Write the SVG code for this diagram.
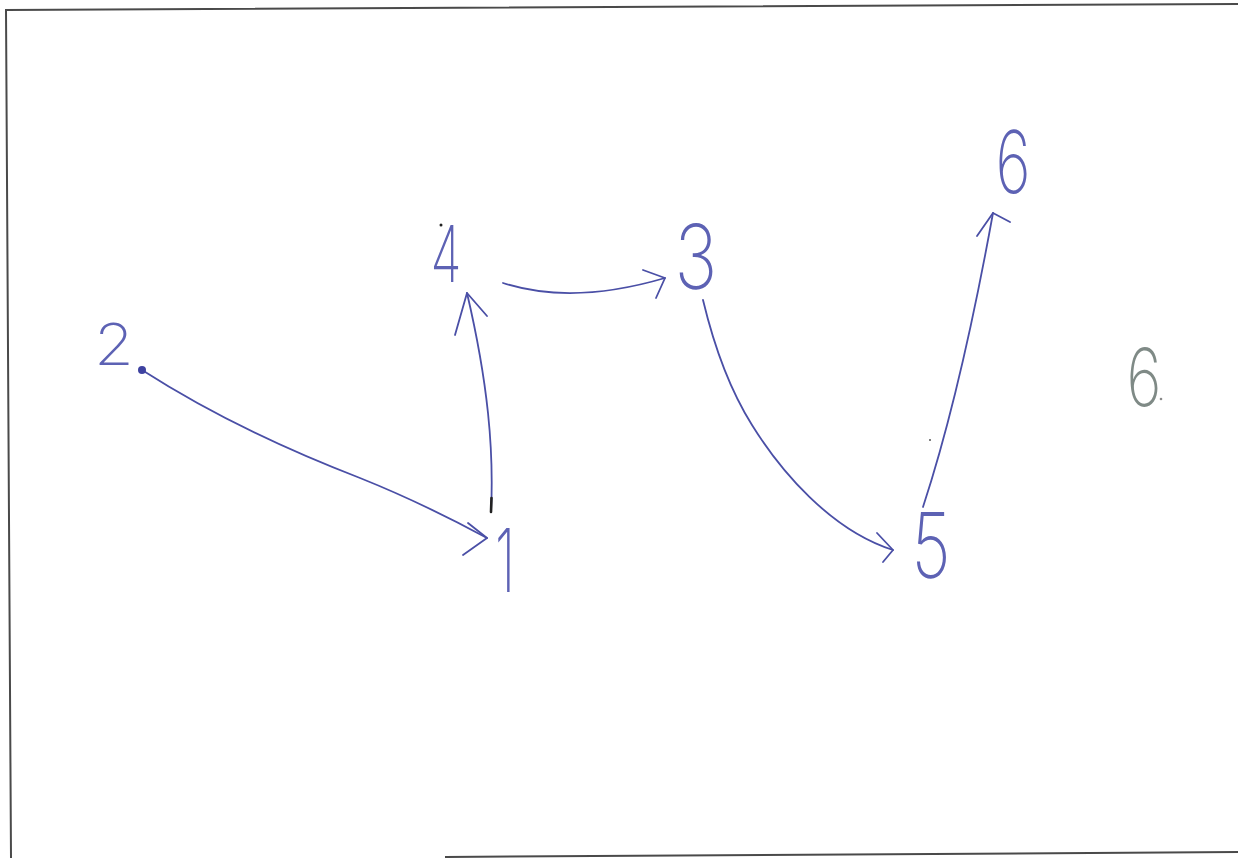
<svg xmlns="http://www.w3.org/2000/svg" width="1238" height="858" viewBox="0 0 1238 858">
<style>
.lbl{font-family:Inter,"Liberation Sans",sans-serif;font-weight:200;fill:#5d62b4;text-anchor:middle}
.edge{fill:none;stroke:#4a4fa6;stroke-width:1.8;stroke-linecap:round;stroke-linejoin:round}
.frame{fill:none;stroke:#4a4a4a;stroke-width:2}
</style>
<rect width="1238" height="858" fill="#ffffff"/>
<g id="frame">
<path class="frame" d="M1238,4 L6,10 L11,858"/>
<path class="frame" d="M445,857 L1238,852"/>
</g>
<g id="connectors">
<g id="e2-1">
<path class="edge" d="M142,370 C220,420 300,455 360,478 C410,498 450,518 487,538"/>
<path class="edge" d="M468,523 L487,538 L463,555"/>
</g>
<g id="e1-4">
<path class="edge" d="M491,512 C494,450 488,383 467,293"/>
<path d="M491,512 L491.5,498" stroke="#222" stroke-width="2.6" stroke-linecap="round"/>
<path class="edge" d="M455,335 L467,293 L487,316"/>
</g>
<g id="e4-3">
<path class="edge" d="M503,283 C540,295 590,300 665,278"/>
<path class="edge" d="M643,270 L665,278 L656,298"/>
</g>
<g id="e3-5">
<path class="edge" d="M703,300 C715,350 730,390 752,425 C780,470 830,530 893,550"/>
<path class="edge" d="M877,533 L893,550 L883,562"/>
</g>
<g id="e5-6">
<path class="edge" d="M923,507 C945,440 970,340 993,213"/>
<path class="edge" d="M977,236 L993,213 L1010,222"/>
</g>
</g>
<g id="node-2">
<text class="lbl" x="114" y="365" font-size="68" transform="translate(114,365) scale(0.95,0.85) translate(-114,-365)">2</text>
<circle cx="142" cy="370" r="4" fill="#3e42a0"/>
</g>
<g id="node-4">
<text class="lbl" x="446" y="282" font-size="78" transform="translate(446,282) scale(0.65,1) translate(-446,-282)">4</text>
<circle cx="441" cy="225" r="1.5" fill="#222"/>
</g>
<g id="node-3">
<text class="lbl" x="696" y="289" font-size="90" transform="translate(696,289) scale(0.8,1) translate(-696,-289)">3</text>
</g>
<g id="node-1">
<text class="lbl" x="505" y="592" font-size="88" transform="translate(505,592) scale(0.6,1) translate(-505,-592)">1</text>
</g>
<g id="node-5">
<text class="lbl" x="931" y="578" font-size="90" transform="translate(931,578) scale(0.75,1) translate(-931,-578)">5</text>
<circle cx="930" cy="440" r="1" fill="#555"/>
</g>
<g id="node-6">
<text class="lbl" x="1013" y="193" font-size="86" transform="translate(1013,193) scale(0.7,1) translate(-1013,-193)">6</text>
</g>
<g id="note-6">
<text class="lbl" x="1144" y="406" font-size="80" style="fill:#7f8a86" transform="translate(1144,406) scale(0.75,1) translate(-1144,-406)">6</text>
<circle cx="1161" cy="399" r="1.3" fill="#8a8a8a"/>
</g>
</svg>
